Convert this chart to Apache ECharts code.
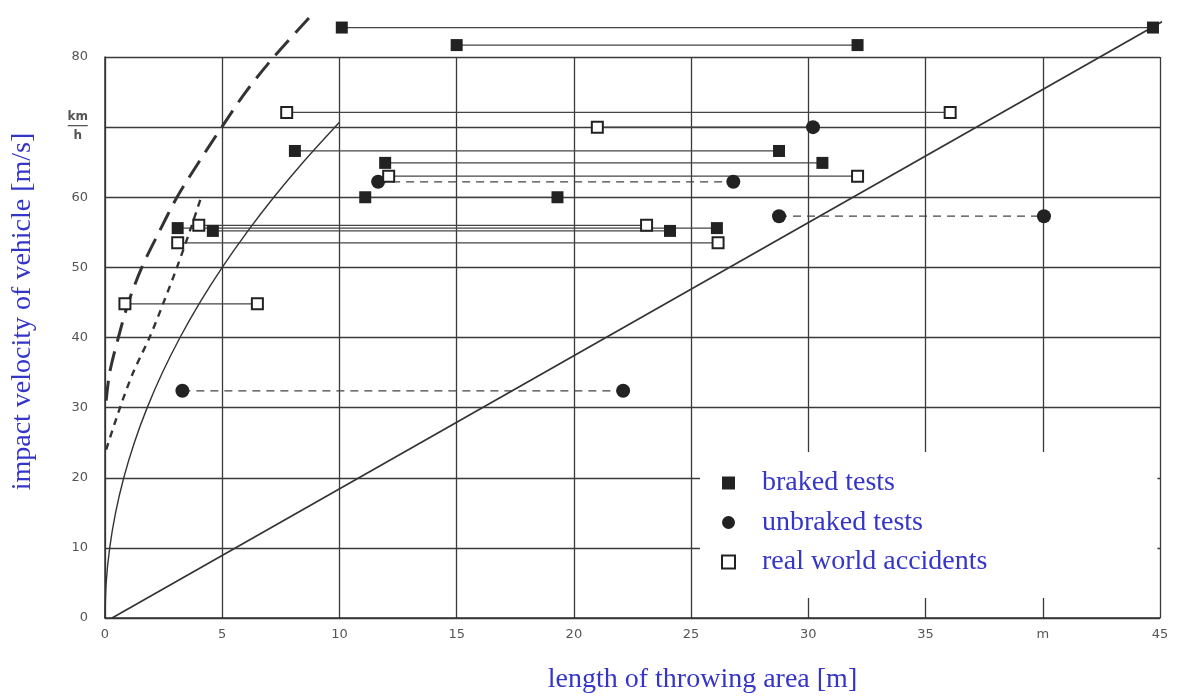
<!DOCTYPE html>
<html><head><meta charset="utf-8">
<script src="https://cdn.jsdelivr.net/npm/echarts@6/dist/echarts.min.js"></script>
<style>html,body{margin:0;padding:0;background:#fff}#c{width:1179px;height:697px}</style>
</head><body><div id="c"></div>
<script>
// Tick labels
const xTickLabels = ['0','5','10','15','20','25','30','35','m','45'];
const yTickLabels = ['0','10','20','30','40','50','60','km/h','80'];

// Pairs: [x start, x end, impact velocity]
const brakedPairs = [
  [10.1, 44.7, 84.2],
  [15.0, 32.1, 81.7],
  [8.1, 28.75, 66.6],
  [11.95, 30.6, 64.9],
  [11.1, 19.3, 60.0],
  [3.1, 26.1, 55.6],
  [4.6, 24.1, 55.2]
];
const unbrakedPairs = [
  [11.65, 26.8, 62.2],
  [28.75, 40.05, 57.3],
  [3.3, 22.1, 32.4]
];
const accidentPairs = [
  [7.75, 36.05, 72.1],
  [12.1, 32.1, 63.0],
  [4.0, 23.1, 56.0],
  [3.1, 26.15, 53.5],
  [0.85, 6.5, 44.8]
];
// open square at start, circle at end
const mixedPairs = [
  [21.0, 30.2, 70.0]
];

// Curves [x, v]
const straightLine = [[0.3, 0], [45.65, 86.1]];
const thinCurve = [[0,0],[0.05,5],[0.2,10],[0.45,15],[0.8,20],[1.25,25],[1.8,30],[2.45,35],[3.2,40],[4.05,45],[5.0,50],[6.05,55],[7.2,60],[8.45,65],[10,70.7]];
const shortDashCurve = [[0.05,24],[0.64,30],[1.2,35],[1.9,40],[2.5,45],[3.07,50],[3.6,55],[4.1,60]];
const longDashCurve = [[0.05,31],[0.2,35],[0.57,40],[1.0,45],[1.57,50],[2.3,55],[3.07,60],[4.0,65],[4.98,70],[6.0,75],[7.2,80],[8.9,86.3]];

const ink = '#222';
const blue = '#3535c8';
const tickGrey = '#555';

function pairLine(p, dashed) {
  return {
    type: 'line', data: [[p[0], p[2]], [p[1], p[2]]], symbol: 'none', silent: true, clip: false,
    lineStyle: { color: '#444', width: 1.2, type: dashed ? [8, 6] : 'solid' }, z: 2
  };
}
const series = [];
brakedPairs.forEach(p => series.push(pairLine(p, false)));
accidentPairs.forEach(p => series.push(pairLine(p, false)));
mixedPairs.forEach(p => series.push(pairLine(p, false)));
unbrakedPairs.forEach(p => series.push(pairLine(p, true)));

series.push({ type: 'line', data: straightLine, symbol: 'none', silent: true, clip: false, lineStyle: { color: '#333', width: 1.6 }, z: 3 });
series.push({ type: 'line', data: thinCurve, symbol: 'none', smooth: 0.3, silent: true, clip: false, lineStyle: { color: '#333', width: 1.4 }, z: 3 });
series.push({ type: 'line', data: shortDashCurve, symbol: 'none', smooth: 0.3, silent: true, clip: false, lineStyle: { color: '#333', width: 2.4, type: [7, 6] }, z: 3 });
series.push({ type: 'line', data: longDashCurve, symbol: 'none', smooth: 0.3, silent: true, clip: false, lineStyle: { color: '#333', width: 3, type: [20, 10] }, z: 3 });

const ends = arr => arr.flatMap(p => [[p[0], p[2]], [p[1], p[2]]]);
series.push({
  name: 'braked tests', type: 'scatter', symbol: 'rect', symbolSize: 12, clip: false, z: 5,
  itemStyle: { color: ink, opacity: 1 }, data: ends(brakedPairs)
});
series.push({
  name: 'unbraked tests', type: 'scatter', symbol: 'circle', symbolSize: 14, clip: false, z: 5,
  itemStyle: { color: ink, opacity: 1 }, data: ends(unbrakedPairs).concat(mixedPairs.map(p => [p[1], p[2]]))
});
series.push({
  name: 'real world accidents', type: 'scatter', symbol: 'rect', symbolSize: 11, clip: false, z: 5,
  itemStyle: { color: '#fff', borderColor: ink, borderWidth: 2, opacity: 1 },
  data: ends(accidentPairs).concat(mixedPairs.map(p => [p[0], p[2]]))
});

const chart = echarts.init(document.getElementById('c'));
chart.setOption({
  animation: false,
  backgroundColor: '#fff',
  grid: { left: 105, right: 19, top: 57, bottom: 79, containLabel: false, outerBoundsMode: 'none' },
  xAxis: {
    type: 'value', min: 0, max: 45, interval: 5,
    name: 'length of throwing area [m]', nameLocation: 'middle', nameGap: 48,
    nameTextStyle: { color: blue, fontFamily: 'Liberation Serif', fontSize: 28, padding: [0, 0, 0, 140] },
    axisLine: { show: true, lineStyle: { color: '#333', width: 1.5 } },
    axisTick: { show: false },
    axisLabel: { color: tickGrey, fontFamily: 'DejaVu Sans', fontSize: 13, margin: 10,
      formatter: v => xTickLabels[Math.round(v / 5)] },
    splitLine: { show: true, lineStyle: { color: '#3a3a3a', width: 1.3 } }
  },
  yAxis: {
    type: 'value', min: 0, max: 80, interval: 10,
    name: 'impact velocity of vehicle [m/s]', nameLocation: 'middle', nameGap: 68,
    nameTextStyle: { color: blue, fontFamily: 'Liberation Serif', fontSize: 28, padding: [0, 0, 0, 52] },
    axisLine: { show: true, lineStyle: { color: '#333', width: 1.5 } },
    axisTick: { show: false },
    axisLabel: { color: tickGrey, fontFamily: 'DejaVu Sans', fontSize: 13, margin: 17,
      formatter: v => {
        const t = yTickLabels[Math.round(v / 10)];
        if (t === 'km/h') return '{n|km}\n{l| }\n{d|h}';
        return t;
      },
      rich: {
        n: { color: tickGrey, fontFamily: 'DejaVu Sans', fontSize: 12, fontWeight: 'bold', lineHeight: 13, align: 'center' },
        l: { width: 20, height: 1.3, lineHeight: 5, backgroundColor: tickGrey, fontSize: 2, align: 'center' },
        d: { color: tickGrey, fontFamily: 'DejaVu Sans', fontSize: 12, fontWeight: 'bold', lineHeight: 16, align: 'center' }
      }
    },
    splitLine: { show: true, lineStyle: { color: '#3a3a3a', width: 1.3 } }
  },
  legend: {
    data: ['braked tests', 'unbraked tests', 'real world accidents'],
    orient: 'vertical', left: 700, top: 452,
    padding: [16, 170, 21, 21], itemGap: 9.5,
    itemWidth: 13, itemHeight: 13,
    backgroundColor: '#fff', selectedMode: false,
    textStyle: { color: blue, fontFamily: 'Liberation Serif', fontSize: 28, lineHeight: 30, padding: [0, 0, 0, 22] }
  },
  series: series
});
</script></body></html>
